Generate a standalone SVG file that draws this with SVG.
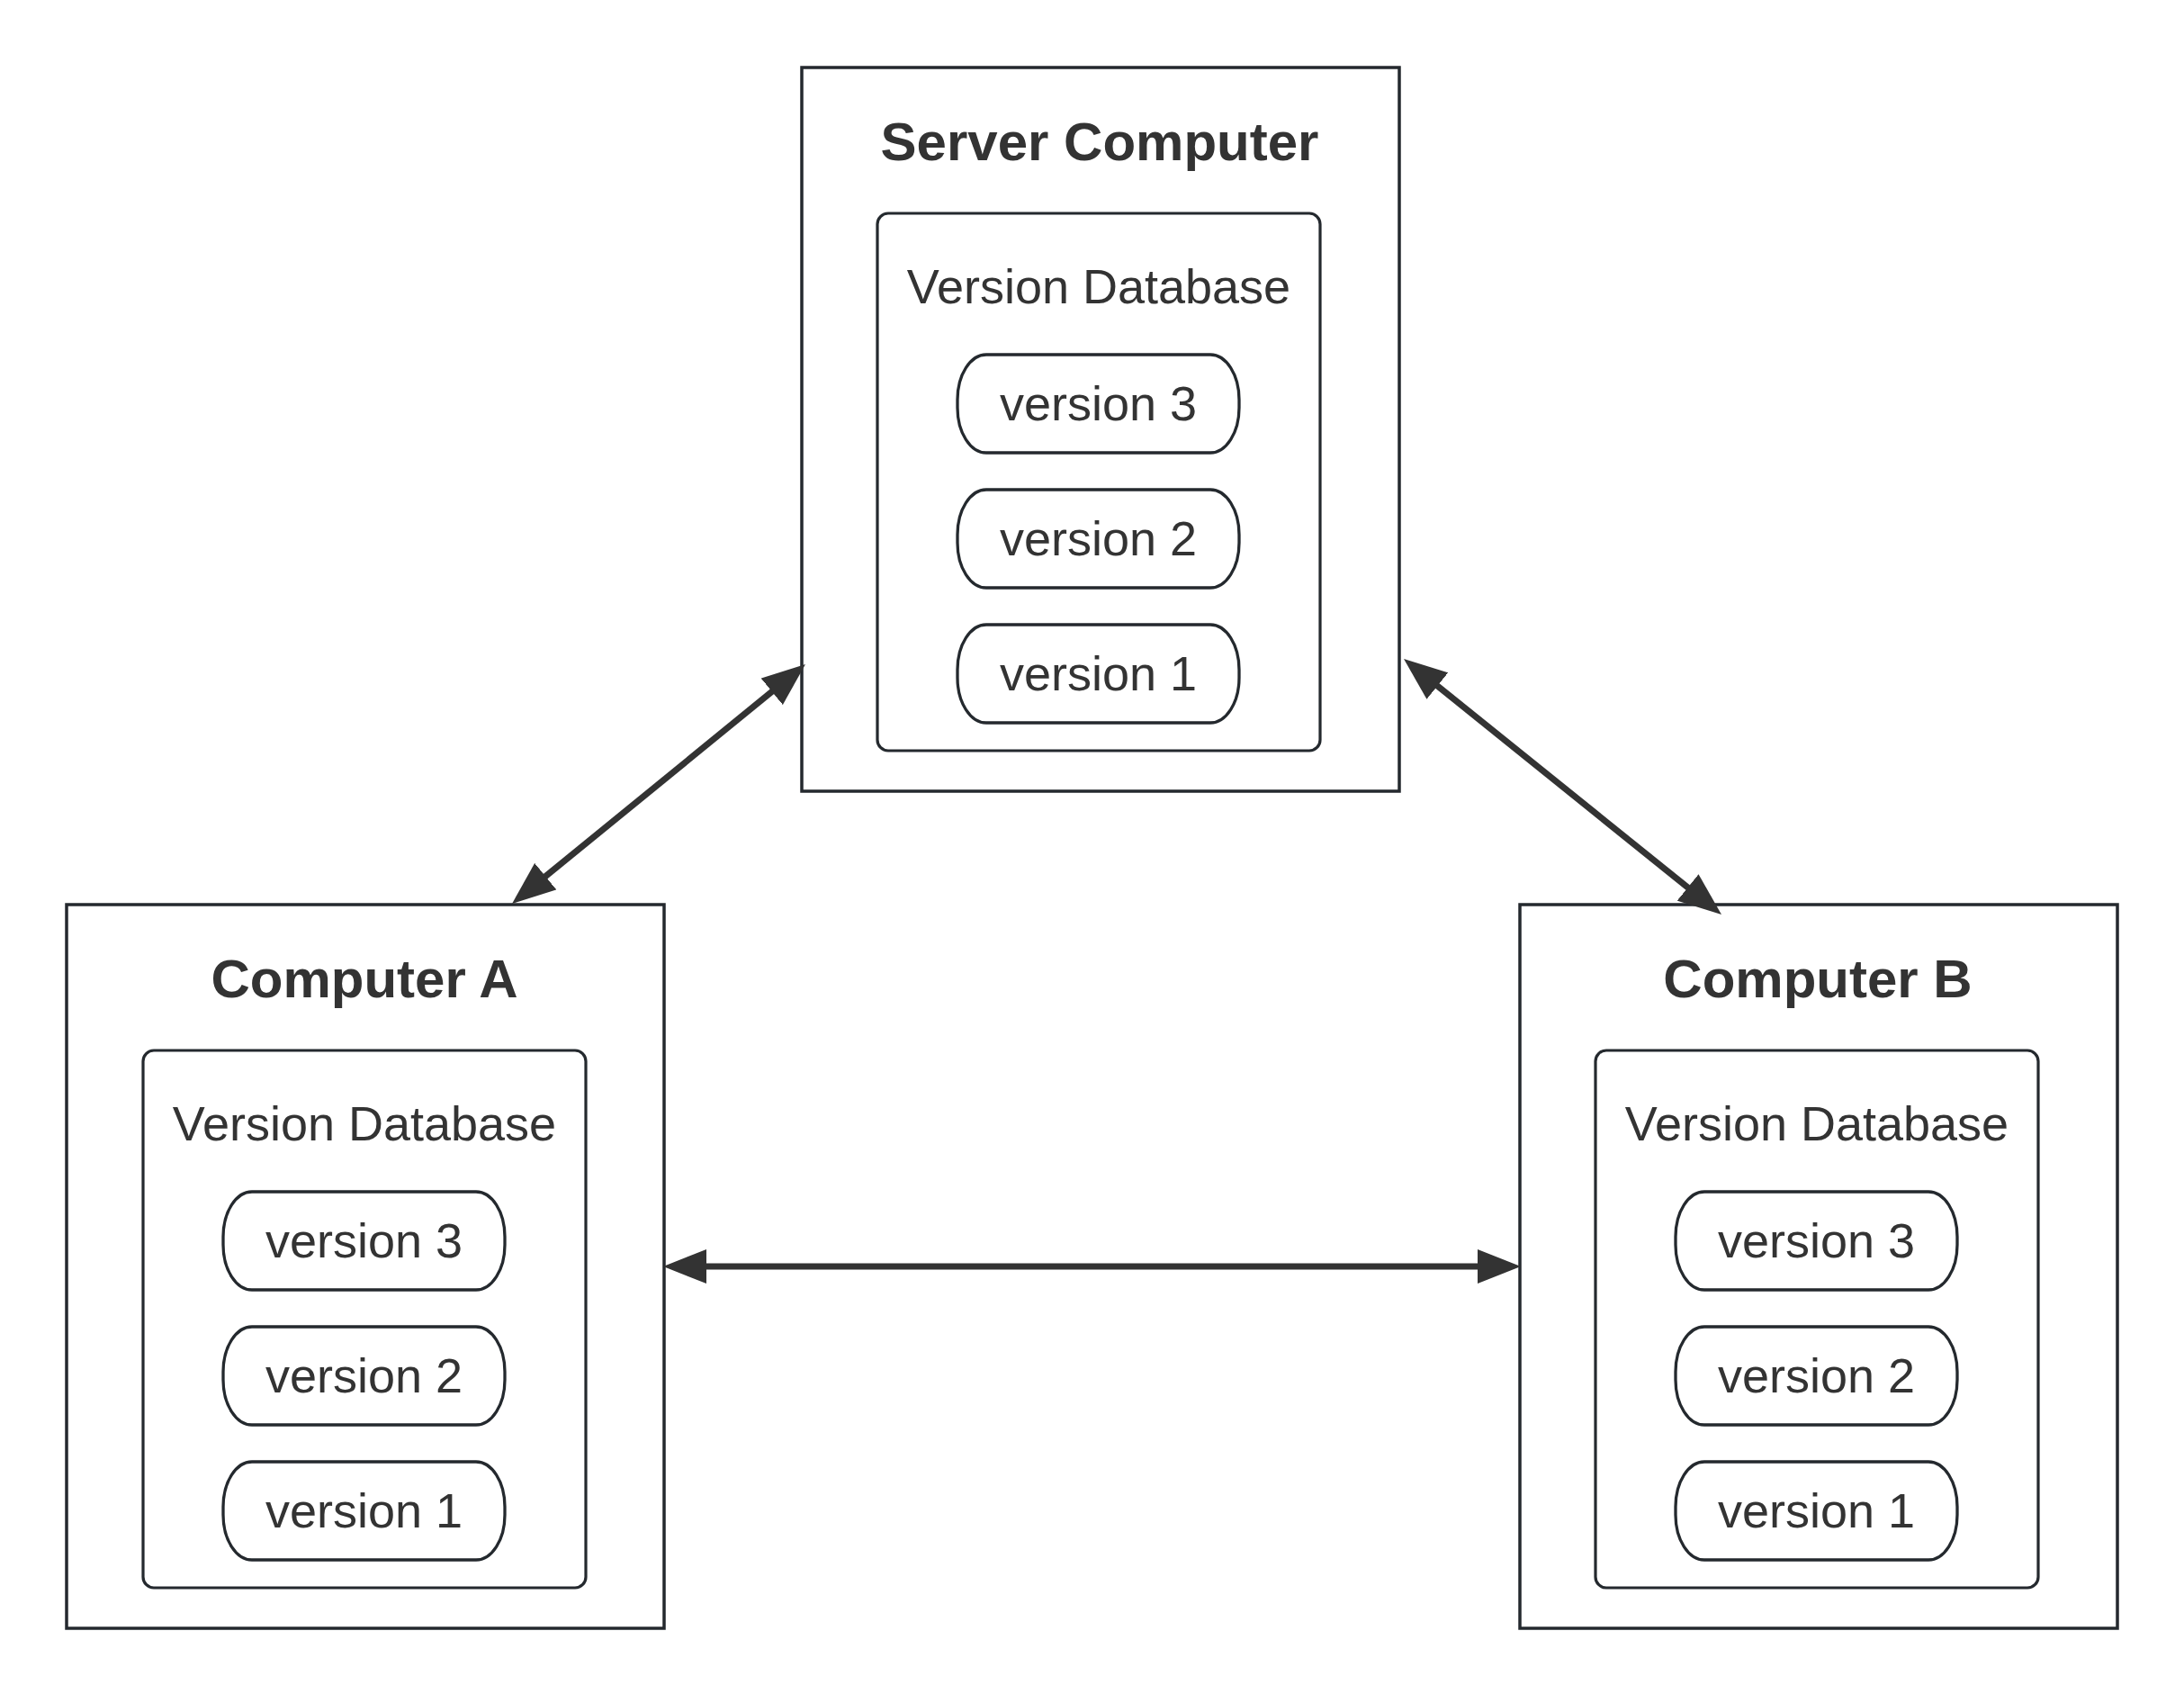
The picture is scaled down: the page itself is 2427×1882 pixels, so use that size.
<svg xmlns="http://www.w3.org/2000/svg" width="2427" height="1882" viewBox="0 0 2427 1882">
<style>
.outer{fill:#ffffff;stroke:#24292e;stroke-width:3.5}
.db{fill:#ffffff;stroke:#24292e;stroke-width:3.2}
.pill{fill:#ffffff;stroke:#24292e;stroke-width:3.3}
.title{font-family:"Liberation Sans",Arial,sans-serif;font-weight:bold;font-size:60px;fill:#333333;text-anchor:middle}
.lbl{font-family:"Liberation Sans",Arial,sans-serif;font-size:54px;fill:#333333;text-anchor:middle}
.conn{stroke:#333333;stroke-width:7;fill:none;marker-start:url(#ah);marker-end:url(#ah)}
</style>
<defs>
<marker id="ah" viewBox="0 0 48 38" refX="24" refY="19" markerWidth="48" markerHeight="38" markerUnits="userSpaceOnUse" orient="auto-start-reverse">
<path d="M0,0 L48,19 L0,38 z" fill="#333333"/>
</marker>
</defs>
<rect width="2427" height="1882" fill="#ffffff"/>
<g id="server">
<rect class="outer" x="891" y="75" width="664" height="804"/>
<text class="title" x="1222" y="178">Server Computer</text>
<rect class="db" x="975" y="237" width="492" height="597" rx="12" ry="12"/>
<text class="lbl" x="1221" y="337">Version Database</text>
<g id="server-v3"><rect class="pill" x="1064" y="394" width="313" height="109" rx="32" ry="50"/><text class="lbl" x="1220.5" y="467">version 3</text></g>
<g id="server-v2"><rect class="pill" x="1064" y="544" width="313" height="109" rx="32" ry="50"/><text class="lbl" x="1220.5" y="617">version 2</text></g>
<g id="server-v1"><rect class="pill" x="1064" y="694" width="313" height="109" rx="32" ry="50"/><text class="lbl" x="1220.5" y="767">version 1</text></g>
</g>
<g id="computer-a">
<rect class="outer" x="74" y="1005" width="664" height="804"/>
<text class="title" x="405" y="1108">Computer A</text>
<rect class="db" x="159" y="1167" width="492" height="597" rx="12" ry="12"/>
<text class="lbl" x="405" y="1267">Version Database</text>
<g id="a-v3"><rect class="pill" x="248" y="1324" width="313" height="109" rx="32" ry="50"/><text class="lbl" x="404.5" y="1397">version 3</text></g>
<g id="a-v2"><rect class="pill" x="248" y="1474" width="313" height="109" rx="32" ry="50"/><text class="lbl" x="404.5" y="1547">version 2</text></g>
<g id="a-v1"><rect class="pill" x="248" y="1624" width="313" height="109" rx="32" ry="50"/><text class="lbl" x="404.5" y="1697">version 1</text></g>
</g>
<g id="computer-b">
<rect class="outer" x="1689" y="1005" width="664" height="804"/>
<text class="title" x="2020" y="1108">Computer B</text>
<rect class="db" x="1773" y="1167" width="492" height="597" rx="12" ry="12"/>
<text class="lbl" x="2019" y="1267">Version Database</text>
<g id="b-v3"><rect class="pill" x="1862" y="1324" width="313" height="109" rx="32" ry="50"/><text class="lbl" x="2018.5" y="1397">version 3</text></g>
<g id="b-v2"><rect class="pill" x="1862" y="1474" width="313" height="109" rx="32" ry="50"/><text class="lbl" x="2018.5" y="1547">version 2</text></g>
<g id="b-v1"><rect class="pill" x="1862" y="1624" width="313" height="109" rx="32" ry="50"/><text class="lbl" x="2018.5" y="1697">version 1</text></g>
</g>
<g id="connectors">
<path class="conn" d="M587.6,988.8 L876.4,753.2"/>
<path class="conn" d="M1578.7,747 L1894.3,1001"/>
<path class="conn" d="M761,1407 L1666,1407"/>
</g>
</svg>
